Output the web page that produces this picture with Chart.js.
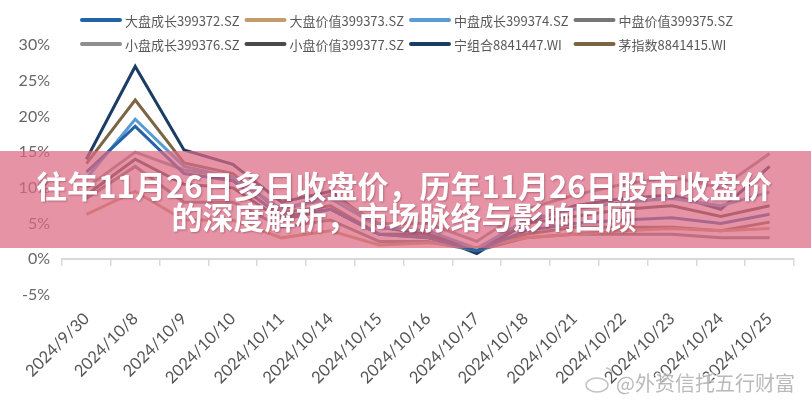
<!DOCTYPE html>
<html>
<head>
<meta charset="utf-8">
<script src="https://cdn.jsdelivr.net/npm/chart.js@4.4.1/dist/chart.umd.min.js"></script>
<style>
html, body { margin: 0; padding: 0; background: #fff; }
#wrap { width: 811px; height: 400px; position: relative; }
</style>
</head>
<body>
<div id="wrap"><canvas id="myChart"></canvas></div>
<script>
// dates on the x axis
const dates = ['2024/9/30', '2024/10/8', '2024/10/9', '2024/10/10', '2024/10/11', '2024/10/14', '2024/10/15',
  '2024/10/16', '2024/10/17', '2024/10/18', '2024/10/21', '2024/10/22', '2024/10/23', '2024/10/24', '2024/10/25'];

// series values, %
const dapanChengzhang = [12.2, 18.6, 12.0, 11.0, 6.0, 7.0, 3.5, 3.0, 1.2, 4.0, 5.0, 5.5, 5.8, 5.0, 6.3];
const dapanJiazhi     = [6.3, 9.5, 5.5, 5.5, 3.0, 4.0, 2.0, 2.3, 1.6, 3.0, 3.5, 4.0, 4.3, 4.0, 4.3];
const zhongpanChengzhang = [11.3, 19.6, 13.0, 11.5, 7.0, 8.5, 4.5, 4.0, 1.5, 5.5, 7.0, 8.0, 8.5, 7.5, 9.4];
const zhongpanJiazhi  = [8.5, 13.0, 8.0, 8.0, 4.5, 5.5, 2.5, 2.5, 1.2, 3.0, 3.5, 3.5, 3.5, 3.0, 3.0];
const xiaopanChengzhang = [10.0, 15.0, 12.5, 11.5, 7.0, 9.0, 5.0, 5.0, 2.5, 7.0, 9.0, 10.5, 11.5, 10.0, 14.8];
const xiaopanJiazhi   = [9.0, 14.0, 10.5, 10.0, 5.5, 7.0, 3.5, 3.5, 1.5, 5.0, 6.0, 7.0, 7.5, 6.0, 7.5];
const ningZuhe        = [14.0, 27.0, 15.3, 13.3, 8.0, 9.5, 4.5, 3.5, 0.8, 5.0, 7.5, 8.5, 9.0, 7.0, 13.0];
const maoZhishu       = [13.4, 22.3, 13.5, 12.0, 6.5, 7.5, 3.5, 3.0, 1.5, 3.5, 4.5, 4.5, 4.5, 4.0, 5.2];

const seriesNames = ['大盘成长399372.SZ', '大盘价值399373.SZ', '中盘成长399374.SZ', '中盘价值399375.SZ',
  '小盘成长399376.SZ', '小盘价值399377.SZ', '宁组合8841447.WI', '茅指数8841415.WI'];
const seriesData = [dapanChengzhang, dapanJiazhi, zhongpanChengzhang, zhongpanJiazhi,
  xiaopanChengzhang, xiaopanJiazhi, ningZuhe, maoZhishu];
const seriesColors = ['#2563a8', '#c39a6b', '#5b9bd5', '#777777', '#8e8e8e', '#4a4a4a', '#1c3d63', '#7b6544'];

// y axis range, %
const yMin = -5;
const yMax = 30;
const yStep = 5;

const title1 = '往年11月26日多日收盘价，历年11月26日股市收盘价';
const title2 = '的深度解析，市场脉络与影响回顾';
const watermark = '@外资信托五行财富';

const cjk = '"Noto Sans CJK SC", "Noto Sans", sans-serif';
const axisFont = 'Lato, "DejaVu Sans", sans-serif';

// legend in a 4 column grid, like the original
const gridLegend = {
  id: 'gridLegend',
  afterDraw(chart) {
    const ctx = chart.ctx;
    ctx.save();
    ctx.font = '13px ' + cjk;
    ctx.textBaseline = 'middle';
    ctx.textAlign = 'left';
    chart.data.datasets.forEach((ds, i) => {
      const x = 82 + (i % 4) * 164.5;
      const y = 20 + Math.floor(i / 4) * 24;
      ctx.strokeStyle = ds.borderColor;
      ctx.lineWidth = 4;
      ctx.lineCap = 'round';
      ctx.beginPath();
      ctx.moveTo(x, y);
      ctx.lineTo(x + 38, y);
      ctx.stroke();
      ctx.fillStyle = '#595959';
      ctx.fillText(ds.label, x + 43, y + 1);
    });
    ctx.restore();
  }
};

// pink title banner over the plot + watermark
const banner = {
  id: 'banner',
  afterDraw(chart) {
    const ctx = chart.ctx;
    ctx.save();
    ctx.fillStyle = 'rgba(220,106,132,0.72)';
    ctx.fillRect(0, 151, chart.width, 97);
    ctx.font = 'bold 31px ' + cjk;
    ctx.textAlign = 'center';
    ctx.textBaseline = 'middle';
    ctx.shadowColor = 'rgba(90,20,40,0.35)';
    ctx.shadowBlur = 2;
    ctx.shadowOffsetX = 1;
    ctx.shadowOffsetY = 1;
    ctx.fillStyle = '#ffffff';
    ctx.fillText(title1, 404, 186);
    ctx.fillText(title2, 404, 217);
    ctx.shadowColor = 'transparent';

    // watermark
    ctx.globalAlpha = 0.6;
    ctx.strokeStyle = '#9a9a9a';
    ctx.lineWidth = 1.5;
    ctx.beginPath();
    ctx.ellipse(597, 385, 11, 7, 0, 0, Math.PI * 2);
    ctx.stroke();
    ctx.beginPath();
    ctx.arc(606, 374, 6, -Math.PI / 2, 0);
    ctx.stroke();
    ctx.font = '20px ' + cjk;
    ctx.textAlign = 'left';
    ctx.lineWidth = 3;
    ctx.strokeStyle = '#ffffff';
    ctx.strokeText(watermark, 616, 383);
    ctx.fillStyle = '#8a8a8a';
    ctx.fillText(watermark, 616, 383);
    ctx.restore();
  }
};

const ctx = document.getElementById('myChart');

new Chart(ctx, {
  type: 'line',
  data: {
    labels: dates,
    datasets: seriesNames.map((name, i) => ({
      label: name,
      data: seriesData[i],
      borderColor: seriesColors[i],
      backgroundColor: seriesColors[i],
      borderWidth: 3,
      pointRadius: 0,
      tension: 0,
      fill: false
    }))
  },
  options: {
    responsive: true,
    maintainAspectRatio: false,
    animation: false,
    layout: {
      padding: { top: 45, right: 17, left: 0, bottom: 0 }
    },
    plugins: {
      legend: { display: false },
      tooltip: { enabled: false }
    },
    scales: {
      x: {
        offset: true,
        grid: { display: false, drawTicks: false },
        border: { display: false },
        ticks: {
          autoSkip: false,
          minRotation: 45,
          maxRotation: 45,
          padding: 14,
          color: '#555555',
          font: { family: axisFont, size: 16.5 }
        },
        afterFit(scale) { scale.height = 105; }
      },
      x2: {
        type: 'category',
        position: { y: 0 },
        offset: true,
        grid: {
          drawOnChartArea: false,
          offset: true,
          tickLength: 6,
          color: '#d9d9d9',
          lineWidth: 1.5
        },
        border: { color: '#d9d9d9', width: 2 },
        ticks: { display: false }
      },
      y: {
        min: yMin,
        max: yMax,
        grid: { display: false, drawTicks: false },
        border: { display: false },
        ticks: {
          stepSize: yStep,
          padding: 12,
          color: '#666666',
          font: { family: axisFont, size: 16 },
          callback: v => v + '%'
        },
        afterFit(scale) { scale.width = 62; }
      }
    }
  },
  plugins: [gridLegend, banner]
});
</script>
</body>
</html>
